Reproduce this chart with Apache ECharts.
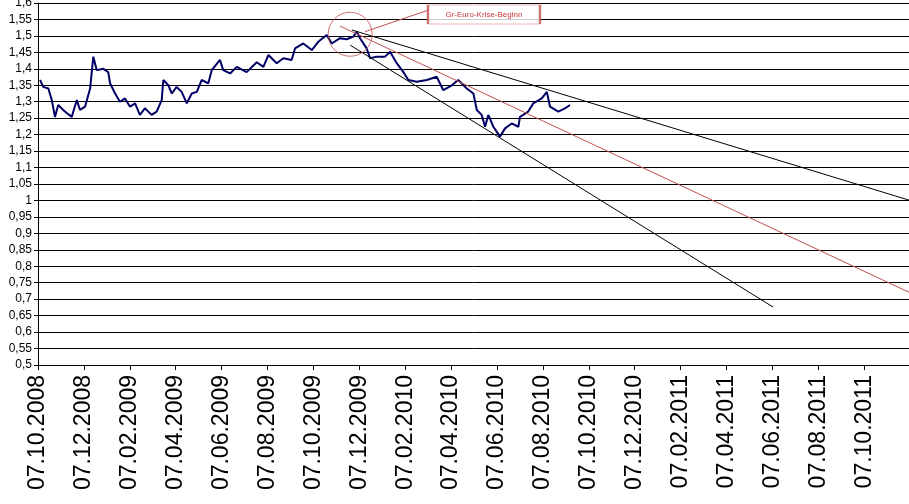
<!DOCTYPE html>
<html>
<head>
<meta charset="utf-8">
<script src="https://cdn.jsdelivr.net/npm/echarts@6/dist/echarts.min.js"></script>
<style>html,body{margin:0;padding:0;background:#fff}#main{width:909px;height:504px}</style>
</head>
<body>
<div id="main"></div>
<script>
// x = Monate seit 07.10.2008
var months = [0.09,0.23,0.45,0.6,0.74,0.88,1.1,1.25,1.47,1.69,1.83,2.05,2.27,2.41,2.56,2.85,3.06,3.14,3.36,3.57,3.79,4.01,4.23,4.44,4.66,4.95,5.17,5.39,5.46,5.68,5.83,6.04,6.26,6.48,6.7,6.92,7.13,7.42,7.57,7.93,8.07,8.37,8.66,9.09,9.53,9.82,10.04,10.4,10.69,11.05,11.2,11.56,11.93,12.21,12.58,12.8,12.87,13.16,13.45,13.74,13.89,14.03,14.32,14.47,14.76,15.12,15.34,15.63,15.92,16.14,16.5,16.94,17.37,17.66,18.03,18.31,18.68,18.97,19.12,19.33,19.48,19.62,19.84,20.13,20.35,20.64,20.93,21.0,21.36,21.58,21.95,22.17,22.31,22.67,22.96,23.18];
var kurs = [1.366,1.345,1.34,1.305,1.254,1.29,1.275,1.266,1.254,1.305,1.275,1.285,1.34,1.437,1.396,1.40,1.39,1.356,1.325,1.30,1.31,1.285,1.295,1.26,1.28,1.26,1.27,1.305,1.366,1.35,1.325,1.345,1.33,1.295,1.325,1.33,1.366,1.356,1.396,1.427,1.396,1.386,1.406,1.39,1.42,1.406,1.442,1.417,1.432,1.427,1.462,1.477,1.457,1.482,1.503,1.477,1.477,1.493,1.49,1.498,1.513,1.493,1.462,1.432,1.437,1.437,1.452,1.417,1.39,1.366,1.361,1.366,1.376,1.335,1.35,1.366,1.34,1.325,1.275,1.26,1.224,1.26,1.224,1.194,1.219,1.234,1.224,1.254,1.27,1.295,1.31,1.33,1.285,1.27,1.28,1.29];
var trendOben = [[13.68,1.518],[37.95,1.001]];
var trendRot = [[13.16,1.530],[37.95,0.721]];
var trendUnten = [[13.6,1.472],[32.03,0.676]];
var kreis = [[13.6,1.505]];
var hinweis = [[19.43,1.565]];
var hinweisLinie = [[14.25,1.513],[16.99,1.578]];

var chart = echarts.init(document.getElementById('main'));
function line(d, c, w) {
  return {type: 'line', data: d, symbol: 'none', silent: true, animation: false,
    lineStyle: {color: c, width: w}, z: 3};
}
chart.setOption({
  animation: false,
  grid: {left: 38, right: 0, top: 3, bottom: 139, containLabel: false, outerBoundsMode: 'none'},
  xAxis: {
    type: 'value', min: 0, max: 37.95, interval: 2,
    splitLine: {show: false},
    axisLine: {onZero: false, lineStyle: {color: '#000'}},
    axisTick: {show: true, lineStyle: {color: '#000'}},
    axisLabel: {
      rotate: 90, fontSize: 23, fontFamily: 'Liberation Sans', color: '#000', margin: 10,
      showMaxLabel: false, hideOverlap: false,
      formatter: function (v) {
        var m = 9 + v, y = 2008 + Math.floor(m / 12);
        var mm = (m % 12) + 1;
        return '07.' + (mm < 10 ? '0' + mm : mm) + '.' + y;
      }
    }
  },
  yAxis: {
    type: 'value', min: 0.5, max: 1.6, interval: 0.05,
    axisLine: {show: true, lineStyle: {color: '#000'}},
    axisTick: {show: true, length: 4, lineStyle: {color: '#000'}},
    splitLine: {lineStyle: {color: '#000', width: 1}},
    axisLabel: {fontSize: 12, fontFamily: 'Liberation Sans', color: '#000', margin: 6,
      showMinLabel: true, showMaxLabel: true, hideOverlap: false,
      formatter: function (v) { return String(Math.round(v * 100) / 100).replace('.', ','); }}
  },
  series: [
    line(months.map(function (m, i) { return [m, kurs[i]]; }), '#000066', 2),
    line(trendOben, '#000', 1),
    line(trendRot, '#c0504d', 1),
    line(trendUnten, '#000', 1),
    line(hinweisLinie, '#c0504d', 1),
    {type: 'scatter', data: kreis, symbol: 'circle', symbolSize: 44, silent: true, z: 4,
      itemStyle: {color: 'rgba(0,0,0,0)', borderColor: '#c0504d', borderWidth: 1}},
    {type: 'scatter', data: hinweis, symbol: 'rect', symbolSize: [112, 19], silent: true, z: 4,
      itemStyle: {color: '#fff', borderColor: '#c0504d', borderWidth: 1},
      label: {show: true, position: 'inside', formatter: 'Gr-Euro-Krise-Beginn',
        fontSize: 8, fontFamily: 'Liberation Sans', color: '#c00000'}}
  ]
});
</script>
</body>
</html>
